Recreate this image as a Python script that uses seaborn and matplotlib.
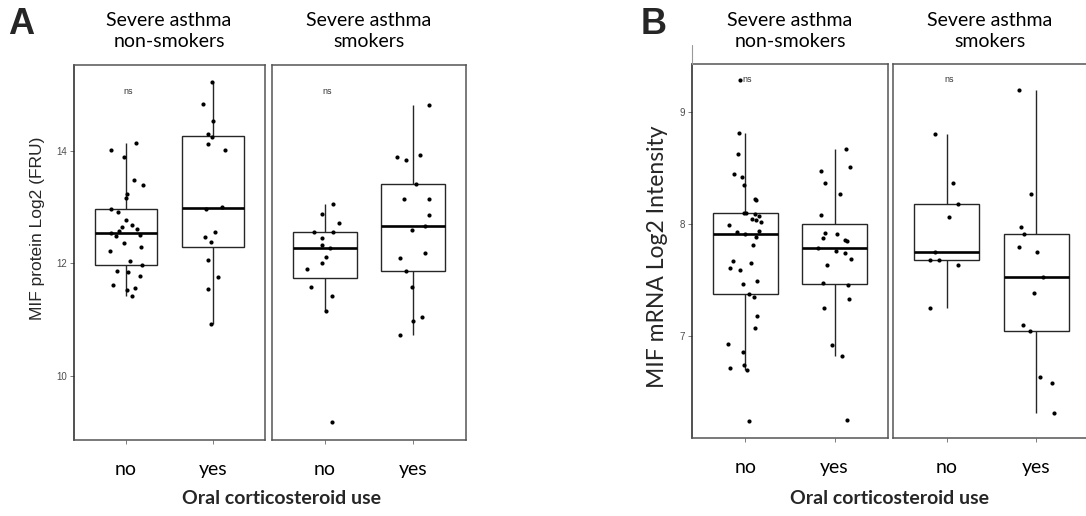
import numpy as np
import pandas as pd
import matplotlib
matplotlib.use("Agg")
import matplotlib.pyplot as plt
import seaborn as sns
from matplotlib.lines import Line2D

# ---------------- data ----------------
ocs_levels = ["no", "yes"]
facet_titles = ["Severe asthma\nnon-smokers", "Severe asthma\nsmokers"]
x_title = "Oral corticosteroid use"
ylabel_a = "MIF protein Log2 (FRU)"
ylabel_b = "MIF mRNA Log2 Intensity"
yticks_a = [10, 12, 14]
yticks_b = [7, 8, 9]
sig_label = "ns"

# Panel A: MIF protein
a_nonsmk_no = [14.02, 14.15, 13.90, 13.48, 13.39, 13.24, 13.17, 12.96, 12.92, 12.78,
               12.69, 12.62, 12.64, 12.55, 12.57, 12.51, 12.48, 12.37, 12.30, 12.22,
               12.05, 11.98, 11.87, 11.84, 11.77, 11.61, 11.53, 11.56, 11.43]
a_nonsmk_yes = [15.23, 14.84, 14.53, 14.31, 14.25, 14.12, 14.02, 13.01, 12.97, 12.56,
                12.47, 12.38, 12.06, 11.76, 11.55, 10.92]
a_smk_no = [13.05, 12.88, 12.72, 12.56, 12.56, 12.46, 12.32, 12.28, 12.11, 12.00,
            11.90, 11.58, 11.43, 11.16, 9.18]
a_smk_yes = [14.82, 13.93, 13.89, 13.84, 13.42, 13.15, 13.15, 12.87, 12.67, 12.59,
             12.19, 12.09, 11.87, 11.58, 11.05, 10.98, 10.72]

# Panel B: MIF mRNA
b_nonsmk_no = [9.28, 8.81, 8.62, 8.44, 8.42, 8.35, 8.22, 8.21, 8.10, 8.10, 8.09, 8.07,
               8.04, 8.03, 8.02, 7.99, 7.94, 7.93, 7.91, 7.88, 7.81, 7.67, 7.65, 7.61,
               7.59, 7.49, 7.46, 7.37, 7.35, 7.18, 7.07, 6.93, 6.86, 6.74, 6.71, 6.70, 6.24]
b_nonsmk_yes = [8.67, 8.51, 8.47, 8.36, 8.27, 8.08, 7.92, 7.91, 7.87, 7.86, 7.85, 7.78,
                7.76, 7.74, 7.69, 7.63, 7.47, 7.45, 7.33, 7.25, 6.92, 6.82, 6.25]
b_smk_no = [8.80, 8.36, 8.18, 8.06, 7.75, 7.68, 7.68, 7.63, 7.25]
b_smk_yes = [9.19, 8.27, 7.97, 7.91, 7.79, 7.75, 7.53, 7.38, 7.10, 7.04, 6.63, 6.58, 6.31]

# ---------------- layout ----------------
W, H = 1086, 516
sns.set_theme(style="white")
plt.rcParams["font.family"] = ["Lato", "DejaVu Sans"]

fig = plt.figure(figsize=(W / 100, H / 100), dpi=100)
fig.patch.set_facecolor("white")


def rect(l, r, t, b):
    return [l / W, 1 - b / H, (r - l) / W, (b - t) / H]


def fx(x):
    return x / W


def fy(y):
    return 1 - y / H


np.random.seed(7)


def facet(ax, no, yes, ylim, yticks, first, ns_y):
    df = pd.DataFrame({"ocs": ["no"] * len(no) + ["yes"] * len(yes),
                       "val": list(no) + list(yes)})
    sns.boxplot(data=df, x="ocs", y="val", order=ocs_levels, ax=ax, width=0.72,
                color="white", linecolor="#262626", linewidth=1.0,
                showfliers=False, showcaps=False,
                medianprops=dict(color="black", linewidth=1.9))
    sns.stripplot(data=df, x="ocs", y="val", order=ocs_levels, ax=ax, jitter=0.2,
                  color="black", size=3.0, linewidth=0)
    ax.set_xlim(-0.6, 1.6)
    ax.set_ylim(*ylim)
    ax.set_xlabel("")
    ax.set_ylabel("")
    ax.set_xticks([0, 1])
    ax.set_xticklabels(ocs_levels, fontsize=14, color="black")
    ax.tick_params(axis="x", length=3, width=0.6, color="#666666", pad=12, bottom=True)
    if first:
        ax.set_yticks(yticks)
        ax.set_yticklabels([str(t) for t in yticks], fontsize=7,
                           color="#4d4d4d", family="Liberation Sans")
        ax.tick_params(axis="y", length=3, width=0.6, color="#666666", pad=2, left=True)
    else:
        ax.set_yticks([])
    for s in ax.spines.values():
        s.set_visible(True)
        s.set_color("#555555")
        s.set_linewidth(1.1)
    if first:
        ax.spines["left"].set_color("#222222")
    ax.text(-0.03, ns_y, sig_label, fontsize=6.5, color="#333333",
            ha="left", va="center", family="Liberation Sans")
    ax.grid(False)


# Panel A
axA1 = fig.add_axes(rect(74, 265, 65, 440))
axA2 = fig.add_axes(rect(272, 466, 65, 440))
ylimA = (8.86, 15.53)
facet(axA1, a_nonsmk_no, a_nonsmk_yes, ylimA, yticks_a, True, 15.05)
facet(axA2, a_smk_no, a_smk_yes, ylimA, yticks_a, False, 15.05)

# Panel B
axB1 = fig.add_axes(rect(692, 888, 64, 438))
axB2 = fig.add_axes(rect(893, 1090, 64, 438))
ylimB = (6.09, 9.425)
facet(axB1, b_nonsmk_no, b_nonsmk_yes, ylimB, yticks_b, True, 9.29)
facet(axB2, b_smk_no, b_smk_yes, ylimB, yticks_b, False, 9.29)

# remnant axis line above panel B
fig.add_artist(Line2D([fx(692), fx(692)], [fy(45), fy(64)], color="#999999", lw=0.8))

# facet titles
for cx, t in [(169, facet_titles[0]), (369, facet_titles[1]),
              (790, facet_titles[0]), (990, facet_titles[1])]:
    fig.text(fx(cx), fy(31), t, ha="center", va="center", fontsize=14,
             linespacing=1.3, color="black")

# x titles
fig.text(fx(281), fy(498), x_title, ha="center", va="center", fontsize=14,
         fontweight="bold")
fig.text(fx(890), fy(498), x_title, ha="center", va="center", fontsize=14,
         fontweight="bold")

# y labels
fig.text(fx(38), fy(228), ylabel_a, ha="center", va="center", rotation=90,
         fontsize=12.5, family="Liberation Sans")
fig.text(fx(658), fy(257), ylabel_b, ha="center", va="center", rotation=90,
         fontsize=16.5)

# panel letters
fig.text(fx(8), fy(24), "A", ha="left", va="center", fontsize=26,
         fontweight="bold", family="Liberation Sans")
fig.text(fx(641), fy(24), "B", ha="left", va="center", fontsize=26,
         fontweight="bold", family="Liberation Sans")

fig.savefig("out.png", dpi=100)
